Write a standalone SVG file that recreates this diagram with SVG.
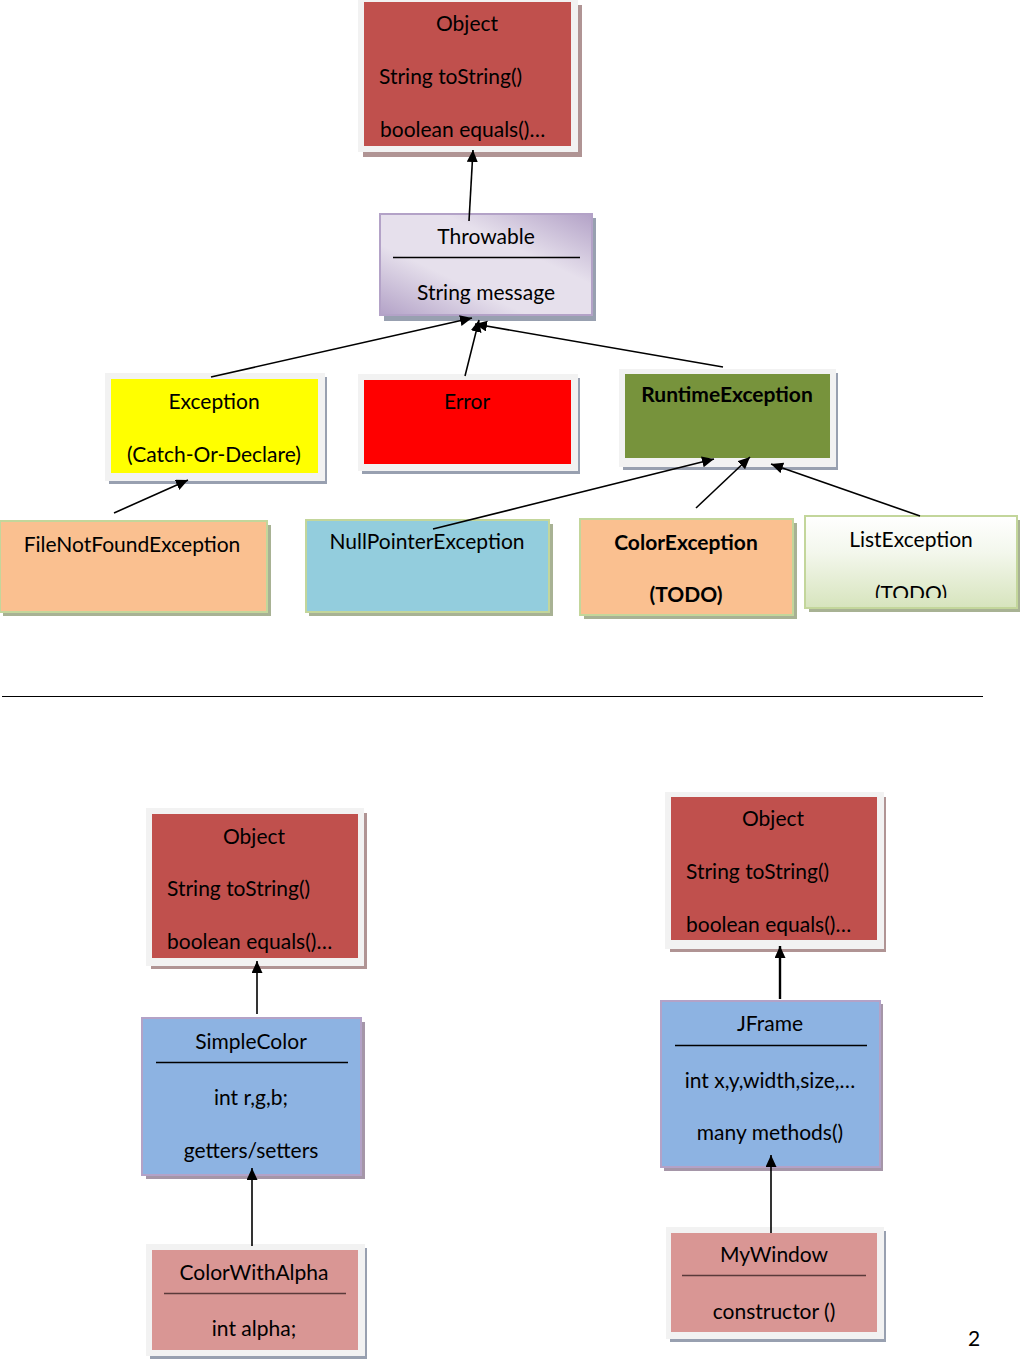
<svg xmlns="http://www.w3.org/2000/svg" width="1020" height="1360" viewBox="0 0 1020 1360">
<defs>
  <marker id="arr" markerWidth="13" markerHeight="12" refX="12" refY="5.5" orient="auto" markerUnits="userSpaceOnUse">
    <path d="M0,0 L12,5.5 L0,11 z" fill="#000"/>
  </marker>
  <linearGradient id="gThrow" x1="0" y1="1" x2="1" y2="0">
    <stop offset="0" stop-color="#b3a2c7"/>
    <stop offset="0.35" stop-color="#e6e0ec"/>
    <stop offset="0.65" stop-color="#e6e0ec"/>
    <stop offset="1" stop-color="#b3a2c7"/>
  </linearGradient>
  <linearGradient id="gList" x1="0" y1="0" x2="0" y2="1">
    <stop offset="0" stop-color="#ffffff"/>
    <stop offset="0.4" stop-color="#f3f7ec"/>
    <stop offset="1" stop-color="#d7e4bd"/>
  </linearGradient>
  <clipPath id="clipList"><rect x="805" y="516" width="215" height="82"/></clipPath>
  <style>
    text { font-family: Lato, "Liberation Sans", sans-serif; font-size: 21px; fill: #000; }
    .c { text-anchor: middle; }
    .b { font-weight: bold; }
    .frame { fill: #f2f2f2; }
    .red { fill: #c0504d; }
    .pink { fill: #d99694; }
    .blue { fill: #8db3e2; stroke: #b3a2c7; stroke-width: 2; }
    .sh { fill: #98a0b0; }
    .shr { fill: #b09494; }
    .sep { stroke: #000; stroke-width: 1.3; }
    .conn line { stroke: #000; stroke-width: 1.6; marker-end: url(#arr); }
  </style>
</defs>
<rect width="1020" height="1360" fill="#fff"/>

<!-- Top Object -->
<g id="object-top">
  <rect class="shr" x="363" y="5" width="219" height="152"/>
  <rect class="frame" x="358" y="0" width="220" height="152"/>
  <rect class="red" x="364" y="2" width="207" height="144"/>
  <text class="c" x="467" y="31">Object</text>
  <text x="379" y="84">String toString()</text>
  <text x="380" y="137">boolean equals()…</text>
</g>

<!-- Throwable -->
<g id="throwable">
  <rect class="sh" x="384" y="218" width="212" height="103"/>
  <rect x="380" y="214" width="212" height="101" fill="url(#gThrow)" stroke="#b3a2c7" stroke-width="2"/>
  <text class="c" x="486" y="244">Throwable</text>
  <line class="sep" x1="393" y1="257.5" x2="580" y2="257.5"/>
  <text class="c" x="486" y="300">String message</text>
</g>

<!-- Exception -->
<g id="exception">
  <rect class="sh" x="109" y="377" width="218" height="107"/>
  <rect class="frame" x="105" y="373" width="220" height="108"/>
  <rect x="111" y="379" width="207" height="94" fill="#ffff00"/>
  <text class="c" x="214" y="409">Exception</text>
  <text class="c" x="214" y="462">(Catch-Or-Declare)</text>
</g>

<!-- Error -->
<g id="error">
  <rect class="sh" x="362" y="378" width="218" height="96"/>
  <rect class="frame" x="358" y="374" width="220" height="97"/>
  <rect x="364" y="380" width="207" height="84" fill="#ff0000"/>
  <text class="c" x="467" y="409">Error</text>
</g>

<!-- RuntimeException -->
<g id="runtimeexception">
  <rect class="sh" x="623" y="373" width="215" height="97"/>
  <rect class="frame" x="619" y="369" width="217" height="98"/>
  <rect x="625" y="374" width="205" height="84" fill="#77933c"/>
  <text class="c b" x="727" y="402">RuntimeException</text>
</g>

<!-- FileNotFoundException -->
<g id="filenotfound">
  <rect x="3" y="525" width="268" height="91" fill="#a8b294"/>
  <rect x="0" y="521" width="267" height="91" fill="#fac090" stroke="#c3d69b" stroke-width="2"/>
  <text class="c" x="132" y="552">FileNotFoundException</text>
</g>

<!-- NullPointerException -->
<g id="nullpointer">
  <rect x="309" y="524" width="244" height="92" fill="#a8b294"/>
  <rect x="306" y="520" width="243" height="92" fill="#93cddd" stroke="#c3d69b" stroke-width="2"/>
  <text class="c" x="427" y="549">NullPointerException</text>
</g>

<!-- ColorException -->
<g id="colorexception">
  <rect x="584" y="523" width="213" height="96" fill="#a8b294"/>
  <rect x="580" y="519" width="213" height="96" fill="#fac090" stroke="#c3d69b" stroke-width="2"/>
  <text class="c b" x="686" y="550">ColorException</text>
  <text class="c b" x="686" y="602">(TODO)</text>
</g>

<!-- ListException -->
<g id="listexception">
  <rect x="809" y="520" width="211" height="92" fill="#a8b294"/>
  <rect x="805" y="516" width="212" height="92" fill="url(#gList)" stroke="#c3d69b" stroke-width="2"/>
  <text class="c" x="911" y="547">ListException</text>
  <text class="c" x="911" y="601" clip-path="url(#clipList)">(TODO)</text>
</g>

<!-- separator -->
<line x1="2" y1="696.5" x2="983" y2="696.5" stroke="#000" stroke-width="1"/>

<!-- Bottom-left Object -->
<g id="object-left">
  <rect class="shr" x="151" y="813" width="216" height="156"/>
  <rect class="frame" x="146" y="808" width="218" height="158"/>
  <rect class="red" x="152" y="814" width="206" height="144"/>
  <text class="c" x="254" y="844">Object</text>
  <text x="167" y="896">String toString()</text>
  <text x="167" y="949">boolean equals()…</text>
</g>

<!-- SimpleColor -->
<g id="simplecolor">
  <rect x="146" y="1022" width="219" height="157" fill="#a596a8"/>
  <rect class="blue" x="142" y="1018" width="219" height="157"/>
  <text class="c" x="251" y="1049">SimpleColor</text>
  <line class="sep" x1="156" y1="1062.5" x2="348" y2="1062.5"/>
  <text class="c" x="251" y="1105">int r,g,b;</text>
  <text class="c" x="251" y="1158">getters/setters</text>
</g>

<!-- ColorWithAlpha -->
<g id="colorwithalpha">
  <rect class="sh" x="150" y="1248" width="217" height="111"/>
  <rect class="frame" x="146" y="1244" width="219" height="112"/>
  <rect class="pink" x="152" y="1250" width="206" height="100"/>
  <text class="c" x="254" y="1280">ColorWithAlpha</text>
  <line x1="164" y1="1293.5" x2="346" y2="1293.5" stroke="#5a3a3a" stroke-width="1.5"/>
  <text class="c" x="254" y="1336">int alpha;</text>
</g>

<!-- Bottom-right Object -->
<g id="object-right">
  <rect class="shr" x="670" y="797" width="216" height="155"/>
  <rect class="frame" x="665" y="792" width="219" height="157"/>
  <rect class="red" x="671" y="797" width="206" height="143"/>
  <text class="c" x="773" y="826">Object</text>
  <text x="686" y="879">String toString()</text>
  <text x="686" y="932">boolean equals()…</text>
</g>

<!-- JFrame -->
<g id="jframe">
  <rect x="664" y="1004" width="219" height="167" fill="#a596a8"/>
  <rect class="blue" x="661" y="1001" width="219" height="166"/>
  <text class="c" x="770" y="1031">JFrame</text>
  <line class="sep" x1="675" y1="1045.5" x2="867" y2="1045.5"/>
  <text class="c" x="770" y="1088">int x,y,width,size,…</text>
  <text class="c" x="770" y="1140">many methods()</text>
</g>

<!-- MyWindow -->
<g id="mywindow">
  <rect class="sh" x="670" y="1231" width="216" height="111"/>
  <rect class="frame" x="666" y="1227" width="218" height="112"/>
  <rect class="pink" x="671" y="1233" width="206" height="99"/>
  <text class="c" x="774" y="1262">MyWindow</text>
  <line x1="682" y1="1275.5" x2="866" y2="1275.5" stroke="#5a3a3a" stroke-width="1.5"/>
  <text class="c" x="774" y="1319">constructor ()</text>
</g>

<text x="968" y="1346">2</text>

<!-- connectors -->
<g id="connectors" class="conn">
  <line x1="469" y1="221" x2="473" y2="150"/>
  <line x1="211" y1="377" x2="472" y2="318"/>
  <line x1="465" y1="376" x2="479" y2="320"/>
  <line x1="723" y1="367" x2="475" y2="324"/>
  <line x1="114" y1="513" x2="188" y2="480"/>
  <line x1="433" y1="529" x2="714" y2="459"/>
  <line x1="696" y1="508" x2="750" y2="457"/>
  <line x1="920" y1="516" x2="771" y2="464"/>
  <line x1="257" y1="1014" x2="257" y2="961"/>
  <line x1="252" y1="1246" x2="252" y2="1168"/>
  <line x1="780" y1="999" x2="780" y2="946" style="stroke-width:2.4"/>
  <line x1="771" y1="1233" x2="771" y2="1155"/>
</g>
</svg>
